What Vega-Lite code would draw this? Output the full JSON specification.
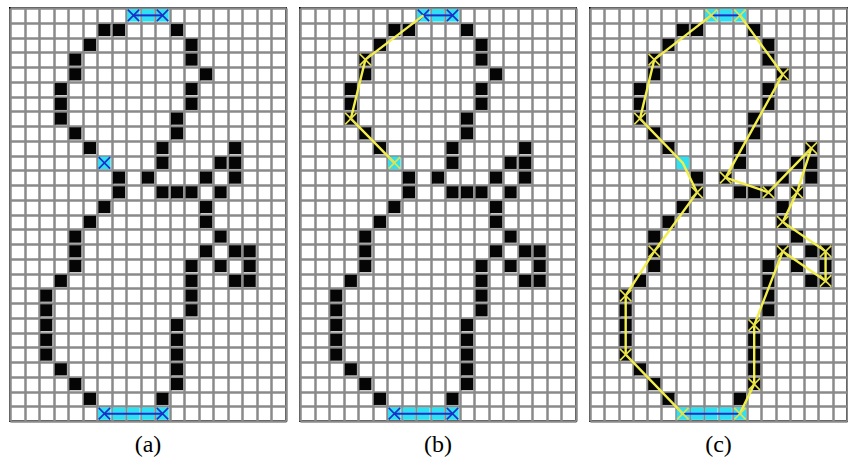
{
  "$schema": "https://vega.github.io/schema/vega-lite/v6.json",
  "background": "white",
  "padding": {"left": 9, "top": 5, "right": 0, "bottom": 0},
  "autosize": {"type": "pad"},
  "spacing": 12,
  "config": {
    "view": {"stroke": "black", "strokeWidth": 2},
    "axis": {"grid": true, "tickBand": "extent", "labels": false, "ticks": false, "domain": false, "gridColor": "#8a8a8a", "gridWidth": 2.5, "gridOpacity": 1},
    "title": {"orient": "bottom", "font": "Liberation Serif", "fontSize": 24, "fontWeight": "normal", "color": "black", "offset": 10, "anchor": "middle"}
  },
  "datasets": {
    "black": [
      {"c": 6, "r": 1}, {"c": 7, "r": 1}, {"c": 11, "r": 1},
      {"c": 5, "r": 2}, {"c": 12, "r": 2},
      {"c": 4, "r": 3}, {"c": 12, "r": 3},
      {"c": 4, "r": 4}, {"c": 13, "r": 4},
      {"c": 3, "r": 5}, {"c": 12, "r": 5},
      {"c": 3, "r": 6}, {"c": 12, "r": 6},
      {"c": 3, "r": 7}, {"c": 11, "r": 7},
      {"c": 4, "r": 8}, {"c": 11, "r": 8},
      {"c": 5, "r": 9}, {"c": 10, "r": 9}, {"c": 15, "r": 9},
      {"c": 10, "r": 10}, {"c": 14, "r": 10}, {"c": 15, "r": 10},
      {"c": 7, "r": 11}, {"c": 9, "r": 11}, {"c": 13, "r": 11}, {"c": 15, "r": 11},
      {"c": 7, "r": 12}, {"c": 10, "r": 12}, {"c": 11, "r": 12}, {"c": 12, "r": 12}, {"c": 14, "r": 12},
      {"c": 6, "r": 13}, {"c": 13, "r": 13},
      {"c": 5, "r": 14}, {"c": 13, "r": 14},
      {"c": 4, "r": 15}, {"c": 14, "r": 15},
      {"c": 4, "r": 16}, {"c": 13, "r": 16}, {"c": 15, "r": 16}, {"c": 16, "r": 16},
      {"c": 4, "r": 17}, {"c": 12, "r": 17}, {"c": 14, "r": 17}, {"c": 16, "r": 17},
      {"c": 3, "r": 18}, {"c": 12, "r": 18}, {"c": 15, "r": 18}, {"c": 16, "r": 18},
      {"c": 2, "r": 19}, {"c": 12, "r": 19},
      {"c": 2, "r": 20}, {"c": 12, "r": 20},
      {"c": 2, "r": 21}, {"c": 11, "r": 21},
      {"c": 2, "r": 22}, {"c": 11, "r": 22},
      {"c": 2, "r": 23}, {"c": 11, "r": 23},
      {"c": 3, "r": 24}, {"c": 11, "r": 24},
      {"c": 4, "r": 25}, {"c": 11, "r": 25},
      {"c": 5, "r": 26}, {"c": 10, "r": 26}
    ],
    "cyan": [
      {"c": 8, "r": 0}, {"c": 9, "r": 0}, {"c": 10, "r": 0},
      {"c": 6, "r": 10},
      {"c": 6, "r": 27}, {"c": 7, "r": 27}, {"c": 8, "r": 27}, {"c": 9, "r": 27}, {"c": 10, "r": 27}
    ],
    "blueline": [
      {"g": "top", "s": 0, "c": 8, "r": 0}, {"g": "top", "s": 1, "c": 10, "r": 0},
      {"g": "bot", "s": 0, "c": 6, "r": 27}, {"g": "bot", "s": 1, "c": 10, "r": 27}
    ],
    "bluex_a": [
      {"c": 8, "r": 0}, {"c": 10, "r": 0}, {"c": 6, "r": 10}, {"c": 6, "r": 27}, {"c": 10, "r": 27}
    ],
    "bluex_b": [
      {"c": 8, "r": 0}, {"c": 10, "r": 0}, {"c": 6, "r": 27}, {"c": 10, "r": 27}
    ],
    "path_b": [
      {"g": 1, "s": 0, "c": 8, "r": 0}, {"g": 1, "s": 1, "c": 4, "r": 3}, {"g": 1, "s": 2, "c": 3, "r": 7}, {"g": 1, "s": 3, "c": 6, "r": 10}
    ],
    "yx_b": [
      {"c": 4, "r": 3}, {"c": 3, "r": 7}, {"c": 6, "r": 10}
    ],
    "path_c": [
      {"g": 1, "s": 0, "c": 8, "r": 0}, {"g": 1, "s": 1, "c": 4, "r": 3}, {"g": 1, "s": 2, "c": 3, "r": 7},
      {"g": 1, "s": 3, "c": 6, "r": 10}, {"g": 1, "s": 4, "c": 7, "r": 12}, {"g": 1, "s": 5, "c": 4, "r": 16},
      {"g": 1, "s": 6, "c": 2, "r": 19}, {"g": 1, "s": 7, "c": 2, "r": 23}, {"g": 1, "s": 8, "c": 6, "r": 27},
      {"g": 2, "s": 0, "c": 10, "r": 27}, {"g": 2, "s": 1, "c": 11, "r": 25}, {"g": 2, "s": 2, "c": 11, "r": 21},
      {"g": 2, "s": 3, "c": 13, "r": 16}, {"g": 2, "s": 4, "c": 16, "r": 18}, {"g": 2, "s": 5, "c": 16, "r": 16},
      {"g": 2, "s": 6, "c": 13, "r": 14}, {"g": 2, "s": 7, "c": 14, "r": 12}, {"g": 2, "s": 8, "c": 15, "r": 9},
      {"g": 2, "s": 9, "c": 12, "r": 12}, {"g": 2, "s": 10, "c": 9, "r": 11}, {"g": 2, "s": 11, "c": 13, "r": 4},
      {"g": 2, "s": 12, "c": 10, "r": 0}
    ],
    "yx_c": [
      {"c": 8, "r": 0}, {"c": 4, "r": 3}, {"c": 3, "r": 7}, {"c": 7, "r": 12}, {"c": 4, "r": 16},
      {"c": 2, "r": 19}, {"c": 2, "r": 23}, {"c": 6, "r": 27}, {"c": 10, "r": 27}, {"c": 11, "r": 25},
      {"c": 11, "r": 21}, {"c": 13, "r": 16}, {"c": 16, "r": 18}, {"c": 16, "r": 16}, {"c": 13, "r": 14},
      {"c": 14, "r": 12}, {"c": 15, "r": 9}, {"c": 12, "r": 12}, {"c": 9, "r": 11}, {"c": 13, "r": 4},
      {"c": 10, "r": 0}
    ]
  },
  "hconcat": [
    {
      "width": 276, "height": 413,
      "title": "(a)",
      "encoding": {
        "x": {"field": "c", "type": "ordinal", "title": null, "scale": {"type": "band", "domain": [0,1,2,3,4,5,6,7,8,9,10,11,12,13,14,15,16,17,18], "paddingInner": 0, "paddingOuter": 0}},
        "y": {"field": "r", "type": "ordinal", "title": null, "scale": {"type": "band", "domain": [0,1,2,3,4,5,6,7,8,9,10,11,12,13,14,15,16,17,18,19,20,21,22,23,24,25,26,27], "paddingInner": 0, "paddingOuter": 0}}
      },
      "layer": [
        {"data": {"name": "black"}, "mark": {"type": "square", "size": 148, "color": "#050505", "opacity": 1}},
        {"data": {"name": "cyan"}, "mark": {"type": "square", "size": 155, "color": "#2fe0f2", "opacity": 1}},
        {"data": {"name": "blueline"}, "mark": {"type": "line", "color": "#1b2fc8", "strokeWidth": 2},
         "encoding": {"detail": {"field": "g"}, "order": {"field": "s", "type": "quantitative"}}},
        {"data": {"name": "bluex_a"}, "mark": {"type": "point", "shape": "M-1,-1L1,1M1,-1L-1,1", "filled": false, "size": 130, "color": "#1b2fc8", "strokeWidth": 1.6, "opacity": 1}}
      ]
    },
    {
      "width": 276, "height": 413,
      "title": "(b)",
      "encoding": {
        "x": {"field": "c", "type": "ordinal", "title": null, "scale": {"type": "band", "domain": [0,1,2,3,4,5,6,7,8,9,10,11,12,13,14,15,16,17,18], "paddingInner": 0, "paddingOuter": 0}},
        "y": {"field": "r", "type": "ordinal", "title": null, "scale": {"type": "band", "domain": [0,1,2,3,4,5,6,7,8,9,10,11,12,13,14,15,16,17,18,19,20,21,22,23,24,25,26,27], "paddingInner": 0, "paddingOuter": 0}}
      },
      "layer": [
        {"data": {"name": "black"}, "mark": {"type": "square", "size": 148, "color": "#050505", "opacity": 1}},
        {"data": {"name": "cyan"}, "mark": {"type": "square", "size": 155, "color": "#2fe0f2", "opacity": 1}},
        {"data": {"name": "blueline"}, "mark": {"type": "line", "color": "#1b2fc8", "strokeWidth": 2},
         "encoding": {"detail": {"field": "g"}, "order": {"field": "s", "type": "quantitative"}}},
        {"data": {"name": "bluex_b"}, "mark": {"type": "point", "shape": "M-1,-1L1,1M1,-1L-1,1", "filled": false, "size": 130, "color": "#1b2fc8", "strokeWidth": 1.6, "opacity": 1}},
        {"data": {"name": "path_b"}, "mark": {"type": "line", "color": "#f2ee4c", "strokeWidth": 2.4},
         "encoding": {"detail": {"field": "g"}, "order": {"field": "s", "type": "quantitative"}}},
        {"data": {"name": "yx_b"}, "mark": {"type": "point", "shape": "M-1,-1L1,1M1,-1L-1,1", "filled": false, "size": 130, "color": "#e6e04a", "strokeWidth": 1.6, "opacity": 1}}
      ]
    },
    {
      "width": 257, "height": 413,
      "title": "(c)",
      "encoding": {
        "x": {"field": "c", "type": "ordinal", "title": null, "scale": {"type": "band", "domain": [0,1,2,3,4,5,6,7,8,9,10,11,12,13,14,15,16,17], "paddingInner": 0, "paddingOuter": 0}},
        "y": {"field": "r", "type": "ordinal", "title": null, "scale": {"type": "band", "domain": [0,1,2,3,4,5,6,7,8,9,10,11,12,13,14,15,16,17,18,19,20,21,22,23,24,25,26,27], "paddingInner": 0, "paddingOuter": 0}}
      },
      "layer": [
        {"data": {"name": "black"}, "mark": {"type": "square", "size": 148, "color": "#050505", "opacity": 1}},
        {"data": {"name": "cyan"}, "mark": {"type": "square", "size": 155, "color": "#2fe0f2", "opacity": 1}},
        {"data": {"name": "blueline"}, "mark": {"type": "line", "color": "#1b2fc8", "strokeWidth": 2},
         "encoding": {"detail": {"field": "g"}, "order": {"field": "s", "type": "quantitative"}}},
        {"data": {"name": "path_c"}, "mark": {"type": "line", "color": "#f2ee4c", "strokeWidth": 2.4},
         "encoding": {"detail": {"field": "g"}, "order": {"field": "s", "type": "quantitative"}}},
        {"data": {"name": "yx_c"}, "mark": {"type": "point", "shape": "M-1,-1L1,1M1,-1L-1,1", "filled": false, "size": 130, "color": "#e6e04a", "strokeWidth": 1.6, "opacity": 1}}
      ]
    }
  ]
}
